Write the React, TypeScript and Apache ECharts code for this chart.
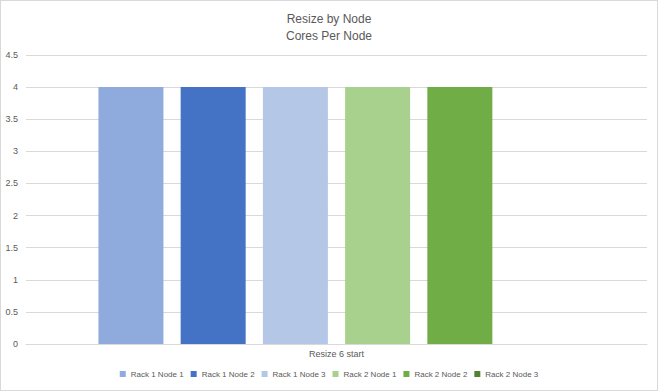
import React, { useEffect, useRef } from "react";
import * as echarts from "echarts";

const categories = ["Resize 6 start"];
const seriesNames = [
  "Rack 1 Node 1",
  "Rack 1 Node 2",
  "Rack 1 Node 3",
  "Rack 2 Node 1",
  "Rack 2 Node 2",
  "Rack 2 Node 3",
];
const seriesValues: (number | null)[][] = [[4], [4], [4], [4], [4], [null]];
const seriesColors = ["#8faadc", "#4472c4", "#b4c7e7", "#a9d18e", "#70ad47", "#548235"];

const FONT = "'Liberation Sans', 'Noto Sans', sans-serif";
const TEXT = "#595959";

export default function App() {
  const ref = useRef<HTMLDivElement>(null);
  useEffect(() => {
    if (!ref.current) return;
    const chart = echarts.init(ref.current, undefined, { renderer: "svg" });
    chart.setOption({
      animation: false,
      backgroundColor: "#ffffff",
      title: {
        text: "Resize by Node\nCores Per Node",
        left: "center",
        top: 4,
        textStyle: {
          fontFamily: FONT,
          fontSize: 12,
          fontWeight: "normal",
          color: TEXT,
          lineHeight: 17,
        },
      },
      legend: {
        bottom: 7,
        left: "center",
        itemWidth: 6,
        itemHeight: 6,
        itemGap: 7,
        icon: "rect",
        textStyle: { fontFamily: FONT, fontSize: 8, color: TEXT },
        data: seriesNames,
      },
      grid: { left: 25, right: 10, top: 54, bottom: 46, containLabel: false },
      xAxis: {
        type: "category",
        data: categories,
        axisLine: { lineStyle: { color: "#d9d9d9" } },
        axisTick: { show: false },
        axisLabel: { fontFamily: FONT, fontSize: 9, color: TEXT, margin: 5 },
      },
      yAxis: {
        type: "value",
        min: 0,
        max: 4.5,
        interval: 0.5,
        axisLine: { show: false },
        axisTick: { show: false },
        splitLine: { lineStyle: { color: "#d9d9d9" } },
        axisLabel: { fontFamily: FONT, fontSize: 9, color: TEXT, margin: 8 },
      },
      series: seriesNames.map((name, i) => ({
        name,
        type: "bar",
        data: seriesValues[i],
        barWidth: 65,
        barGap: "26.5%",
        itemStyle: { color: seriesColors[i] },
      })),
    });
    return () => chart.dispose();
  }, []);
  return (
    <div
      style={{
        position: "fixed",
        left: 0,
        top: 0,
        width: 658,
        height: 391,
        border: "1px solid #d9d9d9",
        boxSizing: "border-box",
        background: "#fff",
      }}
    >
      <div ref={ref} style={{ width: 656, height: 389 }} />
    </div>
  );
}
